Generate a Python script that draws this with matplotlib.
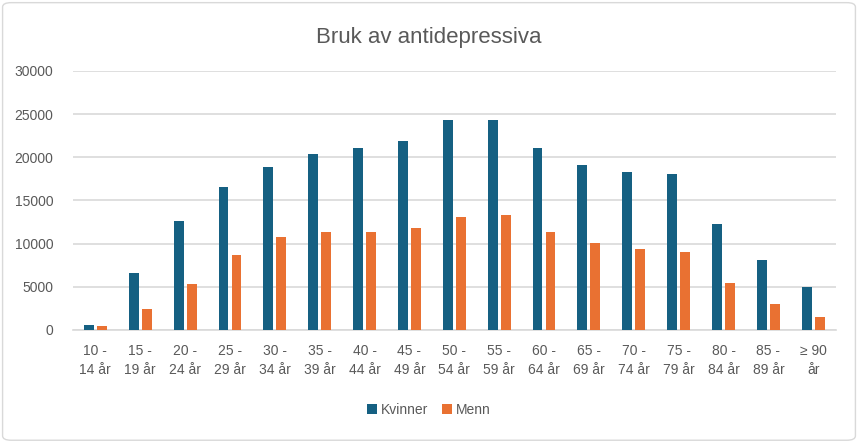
import matplotlib
matplotlib.use("Agg")
import matplotlib.pyplot as plt
import numpy as np
from matplotlib.patches import FancyBboxPatch

# age groups and users per group
GROUPS = ["10 -\n14 år", "15 -\n19 år", "20 -\n24 år", "25 -\n29 år", "30 -\n34 år",
          "35 -\n39 år", "40 -\n44 år", "45 -\n49 år", "50 -\n54 år", "55 -\n59 år",
          "60 -\n64 år", "65 -\n69 år", "70 -\n74 år", "75 -\n79 år", "80 -\n84 år",
          "85 -\n89 år", "≥ 90\når"]
KVINNER = [600, 6600, 12600, 16600, 18900, 20400, 21100, 21900, 24350, 24350,
           21100, 19100, 18250, 18050, 12270, 8050, 4950]
MENN = [460, 2400, 5300, 8650, 10750, 11300, 11400, 11850, 13050, 13270,
        11400, 10100, 9350, 9000, 5400, 3000, 1500]

BLUE = "#156082"; ORANGE = "#E97132"; GRID = "#d9d9d9"; TXT = "#595959"
FONT = ["Liberation Sans Narrow", "Liberation Sans", "DejaVu Sans"]
plt.rcParams["font.family"] = FONT

fig = plt.figure(figsize=(8.58, 4.42), dpi=100)
ax = fig.add_axes([0.085, 0.2534, 0.889, 0.586])

x = np.arange(len(GROUPS))
w = 0.22
ax.bar(x - 0.145, KVINNER, width=w, color=BLUE, label="Kvinner", zorder=3)
ax.bar(x + 0.145, MENN, width=w, color=ORANGE, label="Menn", zorder=3)

ax.set_xlim(-0.5, len(GROUPS) - 0.5)
ax.set_ylim(0, 30000)
ax.set_yticks(range(0, 30001, 5000))
ax.yaxis.grid(True, color=GRID, linewidth=1.2, zorder=0)
ax.set_axisbelow(True)
for s in ("top", "right", "left"):
    ax.spines[s].set_visible(False)
ax.spines["bottom"].set_color(GRID)
ax.spines["bottom"].set_linewidth(1.2)

ax.set_xticks(x)
ax.set_xticklabels(GROUPS, linespacing=1.5)
ax.tick_params(axis="both", colors=TXT, labelsize=10, length=0)
ax.tick_params(axis="y", pad=14)
ax.tick_params(axis="x", pad=10)

fig.text(0.5, 0.915, "Bruk av antidepressiva", ha="center", va="center",
         color=TXT, fontsize=16)

fig.legend(loc="center", bbox_to_anchor=(0.5, 0.072), ncol=2, frameon=False,
           fontsize=10, labelcolor=TXT, handlelength=0.7, handleheight=0.7,
           handletextpad=0.3, columnspacing=1.0)

fig.patches.append(FancyBboxPatch((0.003, 0.004), 0.994, 0.99,
                                  boxstyle="round,pad=0,rounding_size=0.01",
                                  transform=fig.transFigure, fill=False,
                                  edgecolor=GRID, linewidth=1))

fig.savefig("out.png", facecolor="white")
